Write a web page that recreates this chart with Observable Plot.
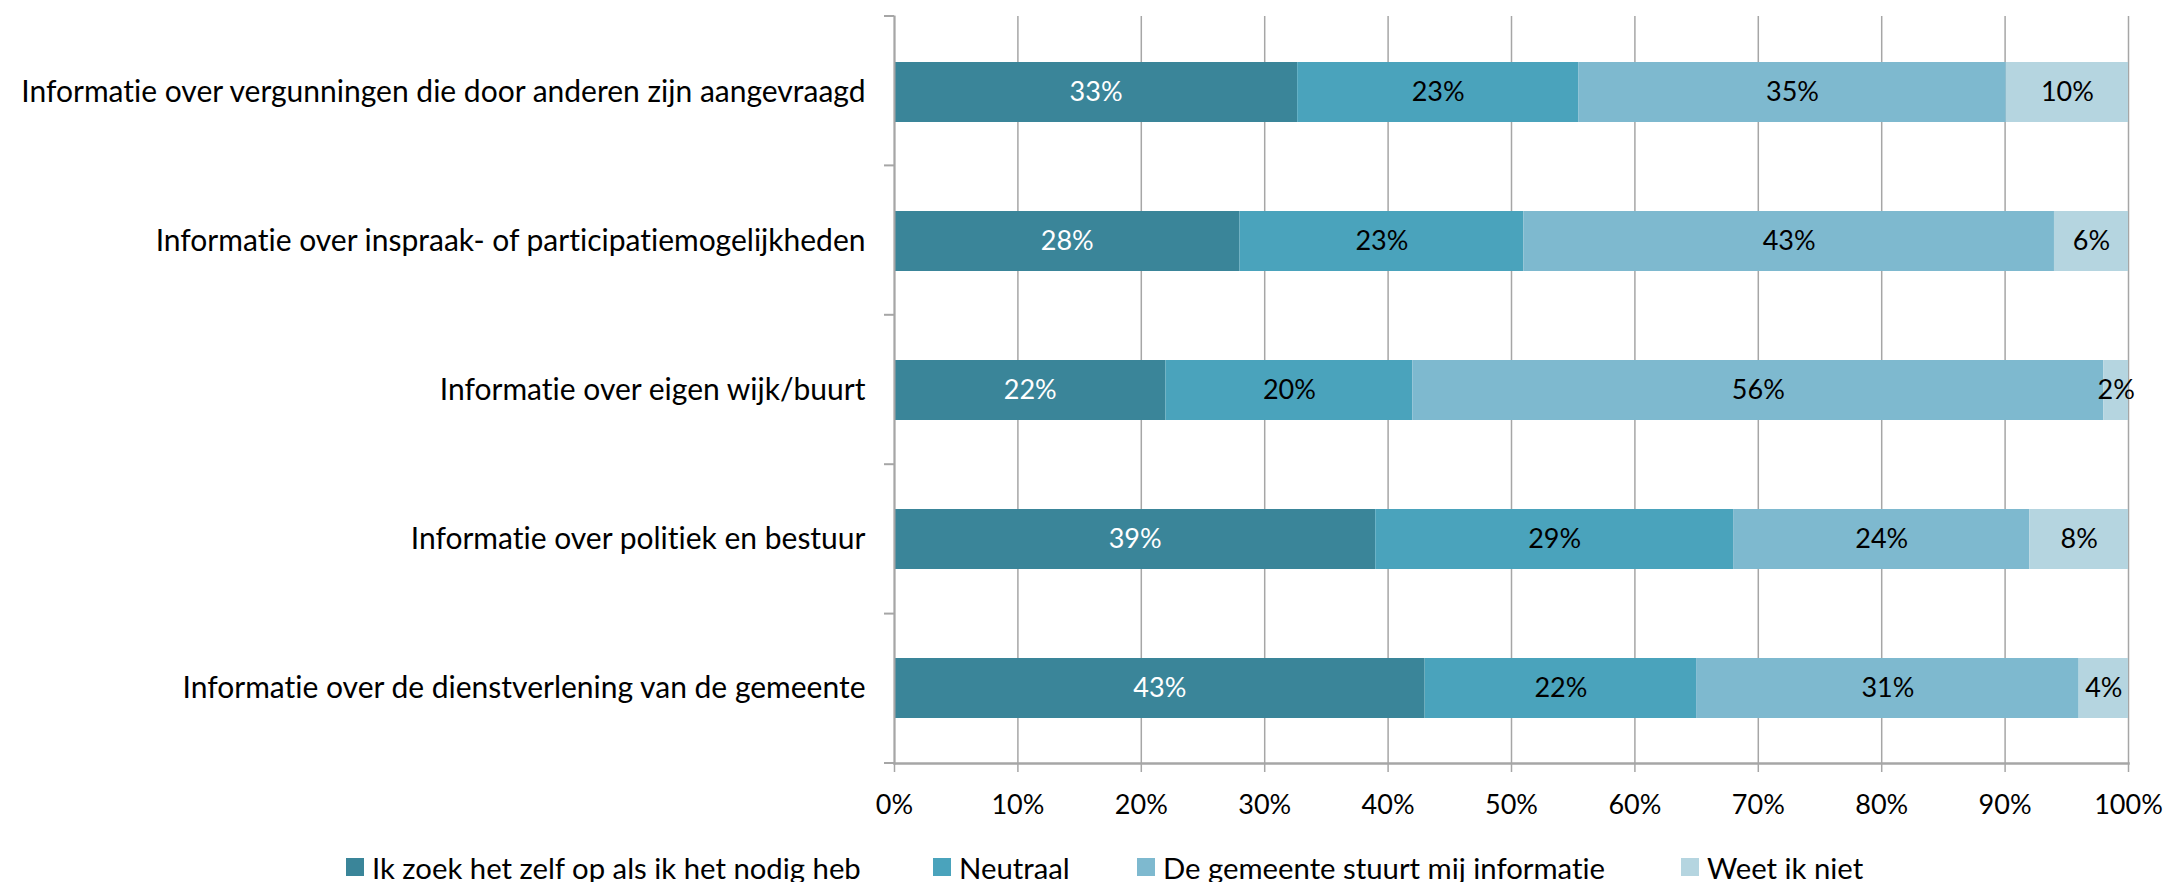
<!DOCTYPE html>
<html>
<head>
<meta charset="utf-8">
<script src="https://cdn.jsdelivr.net/npm/d3@7"></script>
<script src="https://cdn.jsdelivr.net/npm/@observablehq/plot@0.6"></script>
<style>
  html, body { margin: 0; padding: 0; background: #fff; }
  body { width: 2169px; height: 882px; position: relative; overflow: hidden; font-family: Lato, sans-serif; }
  #chart svg { display: block; }
  svg text, #legend { font-variant-ligatures: none; font-feature-settings: "liga" 0, "clig" 0; }
  #legend { position: absolute; left: 0; top: 848px; width: 2169px; height: 38px; font-size: 29.3px; color: #000; white-space: nowrap; }
  #legend .item { position: absolute; top: 0; height: 38px; display: flex; align-items: center; }
  #legend .sw { width: 18px; height: 18px; margin-right: 8px; }
</style>
</head>
<body>
<div id="chart"></div>
<div id="legend"></div>
<script>
const categories = [
  "Informatie over vergunningen die door anderen zijn aangevraagd",
  "Informatie over inspraak- of participatiemogelijkheden",
  "Informatie over eigen wijk/buurt",
  "Informatie over politiek en bestuur",
  "Informatie over de dienstverlening van de gemeente"
];
const seriesNames = [
  "Ik zoek het zelf op als ik het nodig heb",
  "Neutraal",
  "De gemeente stuurt mij informatie",
  "Weet ik niet"
];
const zelfOpzoeken   = [33, 28, 22, 39, 43];
const neutraal       = [23, 23, 20, 29, 22];
const gemeenteStuurt = [35, 43, 56, 24, 31];
const weetIkNiet     = [10, 6, 2, 8, 4];
const xTicks = [0, 0.1, 0.2, 0.3, 0.4, 0.5, 0.6, 0.7, 0.8, 0.9, 1];
const colors = ["#3a8599", "#4aa3bc", "#7eb9cf", "#b5d5e0"];

const seriesValues = [zelfOpzoeken, neutraal, gemeenteStuurt, weetIkNiet];
const data = categories.flatMap((c, i) =>
  seriesNames.map((s, j) => ({category: c, series: s, value: seriesValues[j][i]}))
);

const gridColor = "#a6a6a6";
const stackOpts = {offset: "normalize", x: "value", y: "category", z: "series"};

function boundaryTicks(index, scales, values, dims) {
  const g = d3.create("svg:g").attr("stroke", gridColor).attr("stroke-width", 2);
  const top = dims.marginTop, bottom = dims.height - dims.marginBottom;
  const n = categories.length;
  for (let k = 0; k <= n; k++) {
    const y = top + k * (bottom - top) / n;
    g.append("line").attr("x1", dims.marginLeft - 10).attr("x2", dims.marginLeft).attr("y1", y).attr("y2", y);
  }
  return g.node();
}

const chart = Plot.plot({
  width: 2169,
  height: 830,
  marginLeft: 894,
  marginRight: 41,
  marginTop: 16,
  marginBottom: 67,
  style: {fontFamily: "Lato, sans-serif", fontSize: "27px", color: "#000", background: "#fff"},
  x: {domain: [0, 1], label: null},
  y: {domain: categories, paddingInner: 0.6, paddingOuter: 0.3, label: null},
  color: {domain: seriesNames, range: colors},
  marks: [
    Plot.gridX(xTicks, {stroke: gridColor, strokeOpacity: 1, strokeWidth: 1.5}),
    Plot.barX(data, Plot.stackX({...stackOpts, fill: "series"})),
    Plot.text(data, Plot.stackX({...stackOpts, text: d => d.series === seriesNames[0] ? d.value + "%" : null, fill: "#fff"})),
    Plot.text(data, Plot.stackX({...stackOpts, text: d => d.series !== seriesNames[0] ? d.value + "%" : null, fill: "#000"})),
    Plot.axisX(xTicks, {tickFormat: d => Math.round(d * 100) + "%", tickSize: 9, tickPadding: 22, stroke: gridColor, strokeWidth: 1.5, fontSize: 27, label: null}),
    Plot.axisY({tickSize: 0, tickPadding: 29, fontSize: 30, label: null}),
    Plot.frame({anchor: "left", stroke: gridColor, strokeWidth: 2}),
    Plot.frame({anchor: "bottom", stroke: gridColor, strokeWidth: 2.5}),
    boundaryTicks
  ]
});
document.getElementById("chart").append(chart);

const legendLeft = [346, 933, 1137, 1681];
const legend = d3.select("#legend");
seriesNames.forEach((s, i) => {
  const item = legend.append("div").attr("class", "item").style("left", legendLeft[i] + "px");
  item.append("div").attr("class", "sw").style("background", colors[i]);
  item.append("span").text(s);
});
</script>
</body>
</html>
